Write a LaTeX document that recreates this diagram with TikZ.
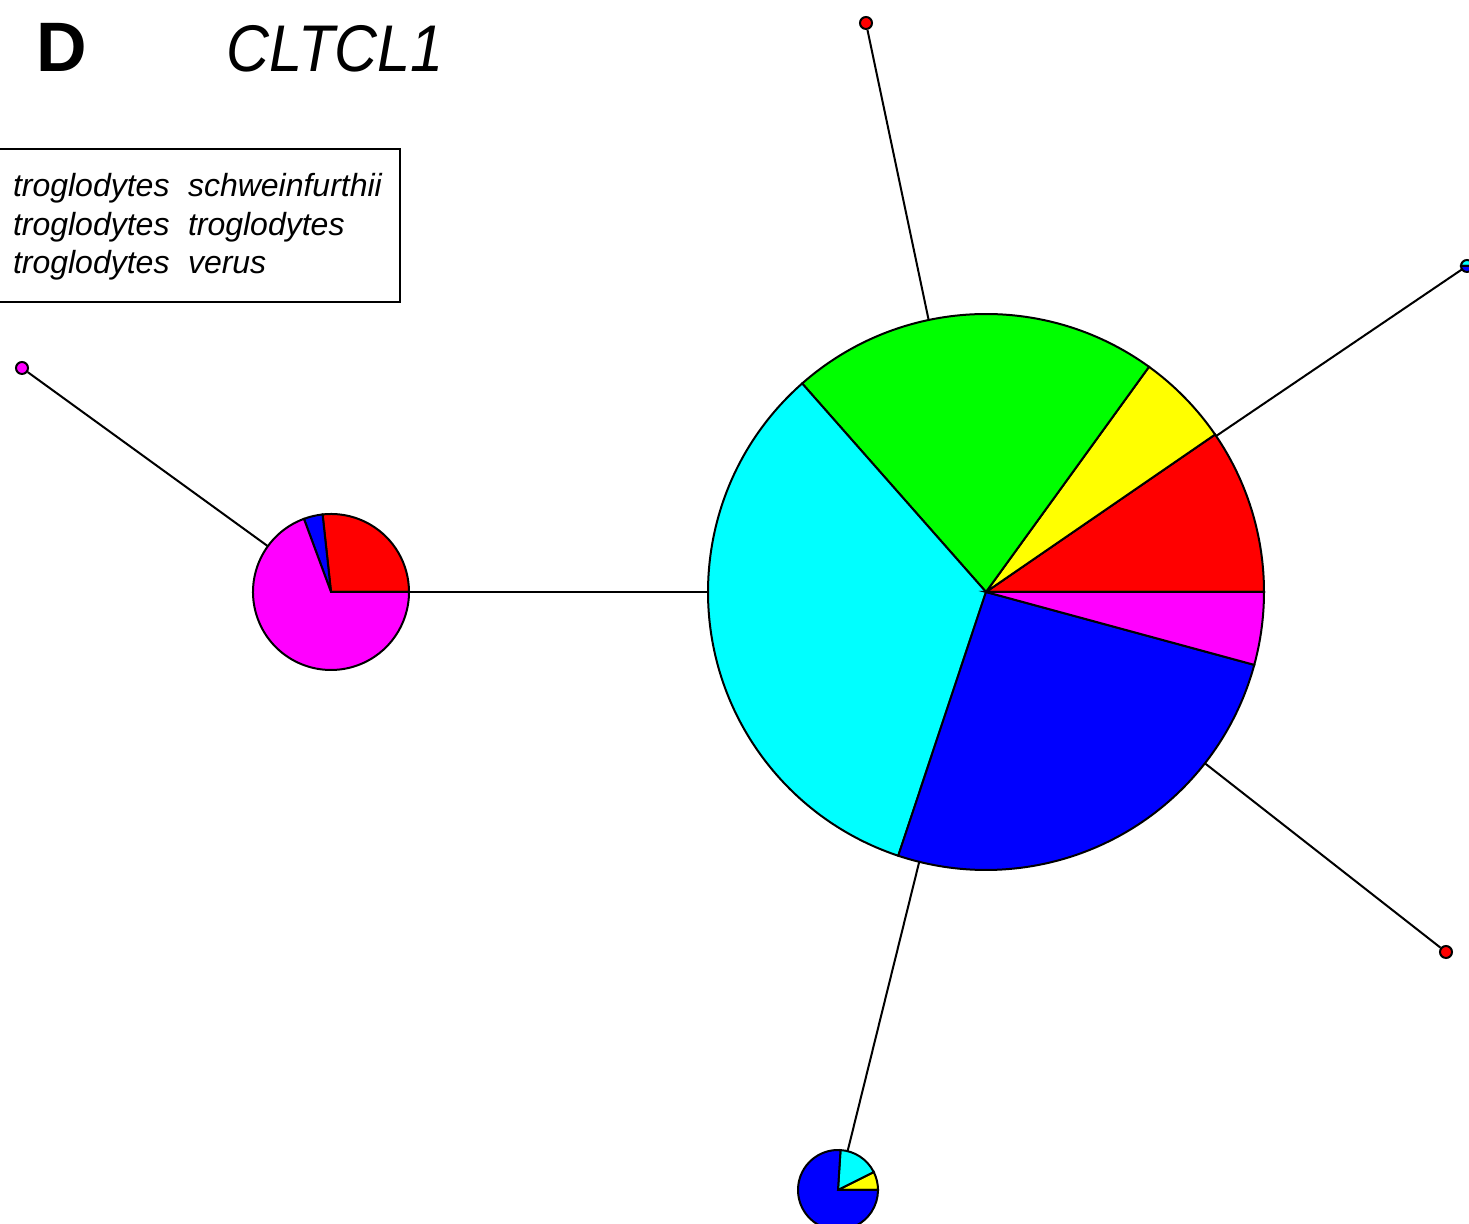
\documentclass[tikz,border=0pt]{standalone}
\usepackage{fontspec}
\setmainfont{Liberation Sans}
\usetikzlibrary{positioning}
\definecolor{hcyan}{RGB}{0,255,255}
\definecolor{hmagenta}{RGB}{255,0,255}
\definecolor{hgreen}{RGB}{0,255,0}
\definecolor{hblue}{RGB}{0,0,255}
\definecolor{hred}{RGB}{255,0,0}
\definecolor{hyellow}{RGB}{255,255,0}
\newcommand{\hapslice}[5]{\filldraw[fill=#5] (#1.center) -- ++(#2:#4) arc[start angle=#2, end angle=#3, radius=#4] -- cycle;}

\begin{document}
\begin{tikzpicture}[x=0.5pt, y=0.5pt, line width=1pt,
 hap/.style={circle,inner sep=0pt,outer sep=0pt},
 tip/.style={circle,draw,inner sep=0pt,minimum size=6pt},
 legtext/.style={anchor=base west,inner sep=0pt,font=\fontsize{16}{19}\selectfont\itshape}]
\clip (0,0) rectangle (1469,1224);
\useasboundingbox (0,0) rectangle (1469,1224);
% haplotype nodes
\node[hap, minimum size=278pt] (main) at (986,632) {};
\node[hap, minimum size=78pt] (left) at (331,632) {};
\node[hap, minimum size=40pt] (bot) at (838,34) {};
\node[tip, fill=hred] (top) at (866,1201) {};
\node[tip, fill=hmagenta] (far) at (22,856) {};
\node[tip, fill=hred] (lowr) at (1446,272) {};
\node[hap, minimum size=6pt] (edge) at (1467,958) {};
% links
\draw (top) -- (main);
\draw (edge) -- (main);
\draw (lowr) -- (main);
\draw (left) -- (main);
\draw (bot) -- (main);
\draw (far) -- (left);
% pies
\hapslice{main}{0}{34.5}{139pt}{hred}
\hapslice{main}{34.5}{54.1}{139pt}{hyellow}
\hapslice{main}{54.1}{131.4}{139pt}{hgreen}
\hapslice{main}{131.4}{251.6}{139pt}{hcyan}
\hapslice{main}{251.6}{344.8}{139pt}{hblue}
\hapslice{main}{344.8}{360}{139pt}{hmagenta}
\hapslice{left}{0}{96.2}{39pt}{hred}
\hapslice{left}{96.2}{110.3}{39pt}{hblue}
\hapslice{left}{110.3}{360}{39pt}{hmagenta}
\hapslice{bot}{0}{26.6}{20pt}{hyellow}
\hapslice{bot}{26.6}{86.4}{20pt}{hcyan}
\hapslice{bot}{86.4}{360}{20pt}{hblue}
\hapslice{edge}{0}{180}{3pt}{hcyan}
\hapslice{edge}{180}{360}{3pt}{hblue}
% legend
\node[draw, inner sep=0pt, minimum width=200.5pt, minimum height=76.5pt, anchor=north west] (leg) at (-2,1076) {};
\node[legtext] (l1) at (12,1027) {troglodytes};
\node[legtext] (s1) at (187,1027) {schweinfurthii};
\node[legtext] (l2) at (12,988) {troglodytes};
\node[legtext] (s2) at (187,988) {troglodytes};
\node[legtext] (l3) at (12,950) {troglodytes};
\node[legtext] (s3) at (187,950) {verus};
% titles
\node[anchor=base west, inner sep=0pt, font=\fontsize{35}{35}\selectfont\bfseries] (panel) at (35,1152) {D};
\node[anchor=base west, inner sep=0pt, xscale=0.9, font=\fontsize{33}{33}\selectfont\itshape] (gene) at (226,1152) {CLTCL1};
\end{tikzpicture}
\end{document}
